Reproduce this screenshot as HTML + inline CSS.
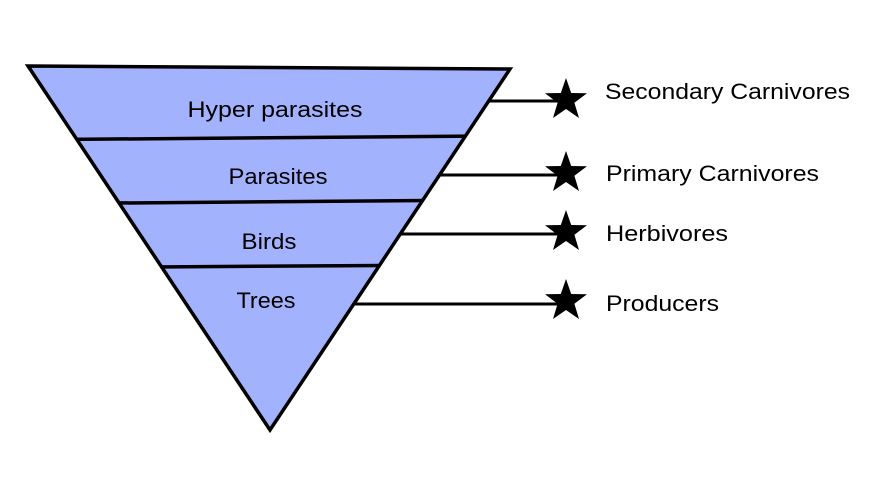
<!DOCTYPE html>
<html><head><meta charset="utf-8"><style>html,body{margin:0;padding:0;background:#fff}svg{display:block}</style></head>
<body>
<svg width="873" height="498" viewBox="0 0 873 498" xmlns="http://www.w3.org/2000/svg">
<defs>
<clipPath id="c"><polygon points="28,66 510,69 270,430"/></clipPath>
<polygon id="st" points="0,-22 5.2,-7 21,-6.8 8.4,2.7 13,18 0,9 -13,18 -8.4,2.7 -21,-6.8 -5.2,-7"/>
</defs>
<polygon points="28,66 510,69 270,430" fill="#a3b2fd"/>
<g clip-path="url(#c)" stroke="#000" stroke-width="3.5">
<line x1="0" y1="140" x2="600" y2="135"/>
<line x1="0" y1="204" x2="600" y2="199"/>
<line x1="0" y1="268" x2="600" y2="264"/>
</g>
<polygon points="28,66 510,69 270,430" fill="none" stroke="#000" stroke-width="3.5" stroke-linejoin="miter"/>
<g stroke="#000" stroke-width="3">
<line x1="488" y1="101" x2="560" y2="101"/>
<line x1="440" y1="175" x2="560" y2="175"/>
<line x1="401" y1="234" x2="560" y2="234"/>
<line x1="355" y1="304" x2="560" y2="304"/>
</g>
<g fill="#000">
<use href="#st" x="566" y="100"/>
<use href="#st" x="566" y="173"/>
<use href="#st" x="566" y="232"/>
<use href="#st" x="566" y="301"/>
</g>
<g font-family="Liberation Sans, sans-serif" font-size="22" fill="#000" text-anchor="middle">
<text x="275" y="117" textLength="175" lengthAdjust="spacingAndGlyphs">Hyper parasites</text>
<text x="278" y="184" textLength="99" lengthAdjust="spacingAndGlyphs">Parasites</text>
<text x="269" y="249" textLength="55" lengthAdjust="spacingAndGlyphs">Birds</text>
<text x="266" y="308" textLength="59" lengthAdjust="spacingAndGlyphs">Trees</text>
</g>
<g font-family="Liberation Sans, sans-serif" font-size="22" fill="#000">
<text x="605" y="99" textLength="245" lengthAdjust="spacingAndGlyphs">Secondary Carnivores</text>
<text x="606" y="181" textLength="213" lengthAdjust="spacingAndGlyphs">Primary Carnivores</text>
<text x="606" y="241" textLength="122" lengthAdjust="spacingAndGlyphs">Herbivores</text>
<text x="606" y="311" textLength="113" lengthAdjust="spacingAndGlyphs">Producers</text>
</g>
</svg>
</body></html>
